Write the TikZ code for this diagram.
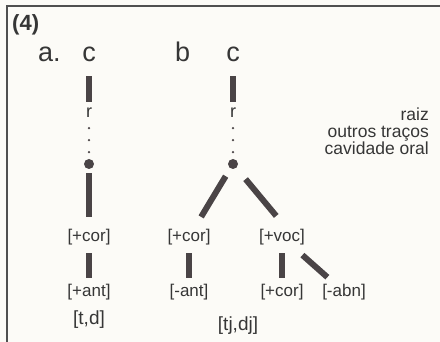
\documentclass[tikz,border=0pt]{standalone}
\usepackage{fontspec}
\setmainfont{Liberation Sans}
\definecolor{txt}{HTML}{363636}
\definecolor{barc}{HTML}{4A4446}
\definecolor{bg}{HTML}{FCFBF7}
\definecolor{framec}{HTML}{505050}
\tikzset{
  lab/.style={font=\fontsize{17}{20}\selectfont, inner sep=6pt, text=txt},
  toplab/.style={font=\fontsize{27}{30}\selectfont, inner sep=0pt, text=txt},
  rlab/.style={font=\fontsize{18}{20}\selectfont, inner sep=0pt, text=txt, anchor=base},
  side/.style={font=\fontsize{17.5}{17}\selectfont, inner sep=0pt, text=txt, align=right, anchor=north east},
  trans/.style={font=\fontsize{19}{22}\selectfont, inner sep=0pt, text=txt},
  bar/.style={draw=barc, line width=6pt},
  dotline/.style={draw=barc, line width=2.6pt, line cap=round, dash pattern=on 0pt off 12pt},
  bigdot/.style={circle, fill=barc, minimum size=10pt, inner sep=0pt},
}
\begin{document}
\begin{tikzpicture}[x=1pt,y=-1pt]
\fill[bg] (0,0) rectangle (440,342);
\useasboundingbox (0,0) rectangle (440,342);
% frame
\draw[framec, line width=2pt] (7,342) -- (7,6) -- (440,6);
% headings
\node[font=\fontsize{22}{24}\selectfont\bfseries, inner sep=0pt, text=txt, anchor=base west] (num) at (12,31) {(4)};
\node[toplab, anchor=base west] (la) at (38,62) {a.};
\node[toplab, anchor=base west] (lb) at (175,62) {b};
% tree a
\node[toplab, anchor=base] (ca) at (89,62) {c};
\node[rlab] (ra) at (89,118) {r};
\node[bigdot] (da) at (89,164) {};
\node[lab] (cora) at (89,237) {[+cor]};
\node[lab] (anta) at (89,292) {[+ant]};
\node[trans] (tda) at (89,320) {[t,d]};
\draw[bar, shorten <=14pt, shorten >=6.5pt] (ca.south) -- (ra.north);
\draw[dotline, shorten <=10pt] (ra.south) -- (da.north);
\draw[bar, shorten <=4pt, shorten >=6pt] (da) -- (cora);
\draw[bar, shorten <=2pt] (cora) -- (anta);
% tree b
\node[toplab, anchor=base] (cb) at (233,62) {c};
\node[rlab] (rb) at (233,118) {r};
\node[bigdot] (db) at (233,164) {};
\node[lab] (corb) at (189,237) {[+cor]};
\node[lab] (antb) at (189,292) {[-ant]};
\node[lab] (voc) at (282,237) {[+voc]};
\node[lab] (corc) at (282,292) {[+cor]};
\node[lab] (abn) at (344,292) {[-abn]};
\node[trans] (tdb) at (238,326) {[tj,dj]};
\draw[bar, shorten <=14pt, shorten >=6.5pt] (cb.south) -- (rb.north);
\draw[dotline, shorten <=10pt] (rb.south) -- (db.north);
\draw[bar, shorten <=9pt, shorten >=7pt] (db) -- (corb);
\draw[bar, shorten <=14.5pt, shorten >=9pt] (db) -- (voc.north);
\draw[bar, shorten <=2pt] (corb) -- (antb);
\draw[bar, shorten <=2pt] (voc) -- (corc);
\draw[bar, shorten <=6pt, shorten >=1pt] (voc) -- (abn);
% side labels
\node[side] (sidetext) at (429,108) {raiz\\outros traços\\cavidade oral};
\end{tikzpicture}
\end{document}
